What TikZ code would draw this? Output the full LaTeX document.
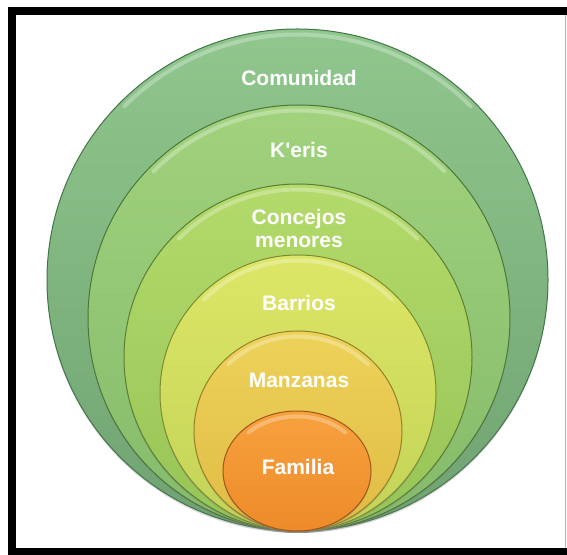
\documentclass[tikz,border=0pt]{standalone}
\usepackage{fontspec}
\setmainfont{Liberation Sans}
\usetikzlibrary{shadows}

\definecolor{comuTop}{HTML}{90C78D}
\definecolor{comuBot}{HTML}{6FA271}
\definecolor{comuEdge}{HTML}{46744A}
\definecolor{keriTop}{HTML}{A1D27D}
\definecolor{keriBot}{HTML}{84BA6A}
\definecolor{keriEdge}{HTML}{4C7638}
\definecolor{concTop}{HTML}{B3DA6B}
\definecolor{concBot}{HTML}{96C456}
\definecolor{concEdge}{HTML}{5A7E34}
\definecolor{barrTop}{HTML}{DDE666}
\definecolor{barrBot}{HTML}{C2D357}
\definecolor{barrEdge}{HTML}{7C8A34}
\definecolor{manzTop}{HTML}{EDD25A}
\definecolor{manzBot}{HTML}{E0BB44}
\definecolor{manzEdge}{HTML}{94802A}
\definecolor{famiTop}{HTML}{F7A23E}
\definecolor{famiBot}{HTML}{EE8A2A}
\definecolor{famiEdge}{HTML}{9E561B}

\tikzset{
  ring/.style={draw=#1, line width=1pt,
    drop shadow={shadow xshift=0pt, shadow yshift=-2pt, opacity=0.3}},
  glint/.style={white, opacity=0.28, line width=4pt, line cap=round},
  lbl/.style={text=white, font=\fontsize{21}{23}\selectfont\bfseries, align=center}
}

\begin{document}
\begin{tikzpicture}[x=1pt, y=1pt]
  \useasboundingbox (0,0) rectangle (567,554);
  \fill[white] (0,0) rectangle (567,554);

  % frame
  \draw[line width=8pt] (575,543) -- (12,543) -- (12,2) -- (575,2);
  \draw[gray!60, line width=0.8pt] (565,6) -- (565,539);

  % rings, outer to inner
  \draw[ring=comuEdge, top color=comuTop, bottom color=comuBot]
    (297.5,274) ellipse [x radius=250.5, y radius=251];
  \draw[glint] (297.5,274) ++(45:245 and 245.5) arc [start angle=45, end angle=135, x radius=245, y radius=245.5];

  \draw[ring=keriEdge, top color=keriTop, bottom color=keriBot]
    (299,236) ellipse [x radius=211, y radius=213];
  \draw[glint] (299,236) ++(45:205.5 and 207.5) arc [start angle=45, end angle=135, x radius=205.5, y radius=207.5];

  \draw[ring=concEdge, top color=concTop, bottom color=concBot]
    (298,196.5) ellipse [x radius=174, y radius=173.5];
  \draw[glint] (298,196.5) ++(45:168.5 and 168) arc [start angle=45, end angle=135, x radius=168.5, y radius=168];

  \draw[ring=barrEdge, top color=barrTop, bottom color=barrBot]
    (298,161) ellipse [x radius=138, y radius=138];
  \draw[glint] (298,161) ++(45:132.5 and 132.5) arc [start angle=45, end angle=135, x radius=132.5, y radius=132.5];

  \draw[ring=manzEdge, top color=manzTop, bottom color=manzBot]
    (298,123) ellipse [x radius=104, y radius=100];
  \draw[glint] (298,123) ++(45:98.5 and 94.5) arc [start angle=45, end angle=135, x radius=98.5, y radius=94.5];

  \draw[ring=famiEdge, top color=famiTop, bottom color=famiBot]
    (297,83) ellipse [x radius=74, y radius=60];
  \draw[glint] (297,83) ++(45:68.5 and 54.5) arc [start angle=45, end angle=135, x radius=68.5, y radius=54.5];

  % labels
  \node[lbl] (comunidad) at (299,476) {Comunidad};
  \node[lbl] (keris) at (299,404) {K\textquotesingle eris};
  \node[lbl] (concejos) at (299,326) {Concejos\\menores};
  \node[lbl] (barrios) at (299,251.5) {Barrios};
  \node[lbl] (manzanas) at (299,174) {Manzanas};
  \node[lbl] (familia) at (298,87) {Familia};
\end{tikzpicture}
\end{document}
